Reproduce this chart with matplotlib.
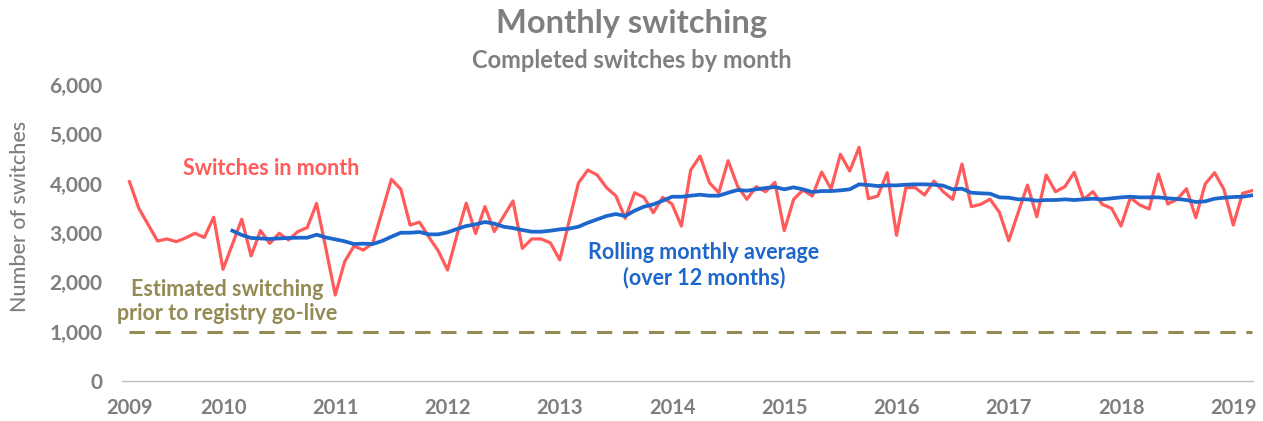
import numpy as np
import matplotlib
matplotlib.use('Agg')
import matplotlib.pyplot as plt

plt.rcParams['font.family'] = ['Lato', 'DejaVu Sans']

# monthly completed switches, Mar 2009 - Mar 2019
switches = [4040, 3500, 3170, 2838, 2880, 2825, 2900, 2995, 2910, 3320,
            2265, 2770, 3280, 2535, 3050, 2790, 2995, 2860, 3030, 3110,
            3600, 2680, 1743, 2420, 2735, 2655, 2790, 3430, 4090, 3890,
            3162, 3220, 2920, 2640, 2250, 2950, 3605, 2990, 3535, 3030,
            3340, 3650, 2688, 2880, 2880, 2800, 2455, 3240, 4015, 4277,
            4176, 3920, 3752, 3298, 3817, 3723, 3412, 3723, 3588, 3142,
            4277, 4561, 4020, 3817, 4466, 3953, 3683, 3940, 3838, 4027,
            3047, 3683, 3872, 3750, 4237, 3892, 4595, 4257, 4737, 3696,
            3750, 4223, 2953, 3920, 3920, 3771, 4054, 3838, 3683, 4399,
            3535, 3581, 3687, 3420, 2845, 3412, 3973, 3330, 4176, 3838,
            3940, 4230, 3683, 3838, 3581, 3500, 3142, 3716, 3568, 3487,
            4196, 3588, 3683, 3899, 3311, 3993, 4223, 3886, 3162, 3805,
            3858]

# rolling 12 month average, starts Feb 2010
rolling = [3047, 2960, 2900, 2890, 2880, 2890, 2900, 2905, 2905, 2966,
           2910, 2872, 2832, 2777, 2785, 2777, 2838, 2925, 3006, 3006,
           3020, 2973, 2973, 3013, 3081, 3142, 3176, 3223, 3190, 3128,
           3101, 3061, 3027, 3027, 3047, 3074, 3088, 3128, 3209, 3277,
           3345, 3385, 3345, 3453, 3534, 3581, 3655, 3736, 3736, 3757,
           3777, 3757, 3757, 3817, 3872, 3858, 3886, 3912, 3933, 3886,
           3926, 3886, 3831, 3851, 3851, 3865, 3886, 3987, 3973, 3953,
           3966, 3966, 3980, 3987, 3987, 3980, 3960, 3886, 3899, 3817,
           3805, 3798, 3723, 3716, 3683, 3683, 3655, 3669, 3669, 3683,
           3669, 3683, 3696, 3683, 3703, 3723, 3736, 3723, 3723, 3723,
           3703, 3690, 3669, 3629, 3642, 3696, 3716, 3730, 3736, 3764]

pre_golive = 1000
years = ['2009', '2010', '2011', '2012', '2013', '2014', '2015', '2016',
         '2017', '2018', '2019']
first_month = 3   # March 2009

idx = np.arange(len(switches))
roll_idx = idx[len(switches) - len(rolling):]
year_pos = [0] + [12 * k + (13 - first_month) for k in range(len(years) - 1)]

grey = '#7f7f7f'
red = '#ff5b5b'
blue = '#1c66cc'
olive = '#948a54'

fig = plt.figure(figsize=(12.63, 4.21), dpi=100)
ax = fig.add_axes([0.0966, 0.095, 0.8954, 0.703])

ax.plot(idx, [pre_golive] * len(idx), color=olive, lw=2.2, dashes=(5, 3.5))
ax.plot(idx, switches, color=red, lw=2.3)
ax.plot(roll_idx, rolling, color=blue, lw=2.7)

ax.set_xlim(-0.8, 120.1)
ax.set_ylim(0, 6000)
ax.set_yticks(np.arange(0, 6001, 1000))
ax.set_yticklabels(['{:,}'.format(v) for v in range(0, 6001, 1000)])
ax.set_xticks(year_pos)
ax.set_xticklabels(years)

for s in ['top', 'right', 'left']:
    ax.spines[s].set_visible(False)
ax.spines['bottom'].set_color('#bfbfbf')
ax.spines['bottom'].set_linewidth(1.0)
ax.tick_params(axis='y', length=0, colors=grey, labelsize=15, pad=14)
ax.tick_params(axis='x', length=0, colors=grey, labelsize=14.5, pad=12)
for lab in ax.get_xticklabels() + ax.get_yticklabels():
    lab.set_fontweight('bold')

ax.set_ylabel('Number of switches', color=grey, fontsize=15.5,
              fontweight='medium')
ax.yaxis.set_label_coords(-0.081, 0.557)

ax.text(15.2, 4300, 'Switches in month', color=red, fontsize=15.5,
        fontweight='bold', ha='center', va='center')
ax.text(10.4, 1610, 'Estimated switching\nprior to registry go-live',
        color=olive, fontsize=15.5, fontweight='bold', ha='center',
        va='center', linespacing=1.2)
ax.text(61.4, 2340, 'Rolling monthly average\n(over 12 months)', color=blue,
        fontsize=15.5, fontweight='bold', ha='center', va='center',
        linespacing=1.2)

fig.text(0.5, 0.945, 'Monthly switching', color=grey, fontsize=23.5,
         fontweight='bold', ha='center', va='center')
fig.text(0.5, 0.857, 'Completed switches by month', color=grey, fontsize=17,
         fontweight='bold', ha='center', va='center')

fig.savefig('out.png', dpi=100)
